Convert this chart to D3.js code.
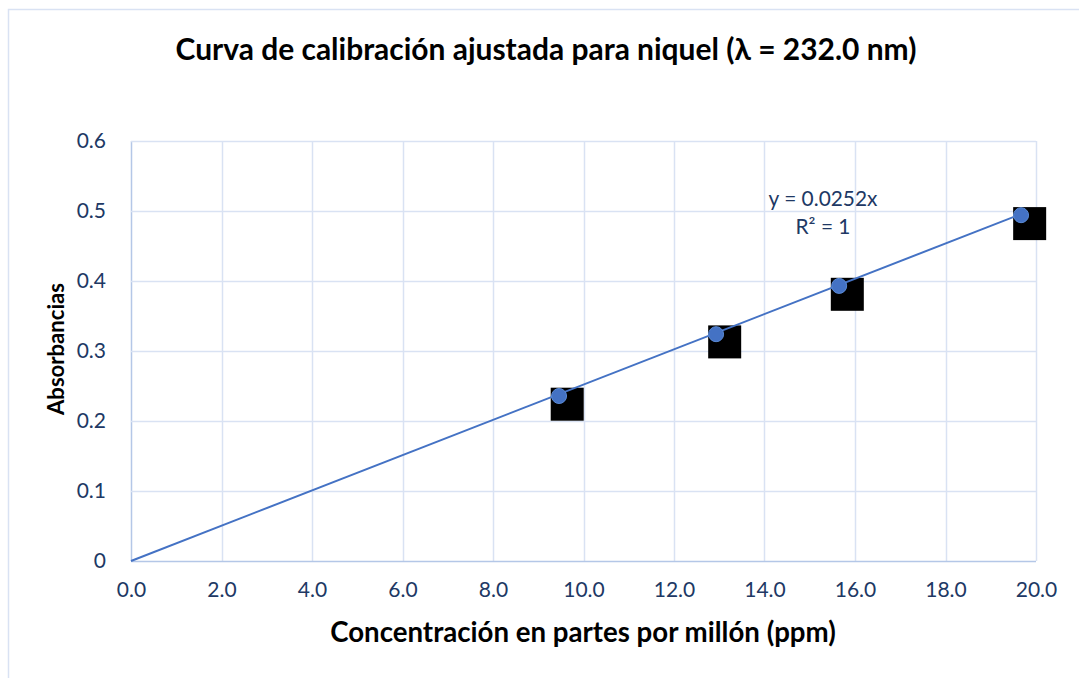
<!DOCTYPE html>
<html>
<head>
<meta charset="utf-8">
<script src="https://cdn.jsdelivr.net/npm/d3@7"></script>
<style>
  body { margin: 0; background: #fff; }
  svg { display: block; }
</style>
</head>
<body>
<svg id="chart" width="1079" height="678"></svg>
<script>
// data
const concentraciones = [9.46, 12.93, 15.65, 19.67];
const absorbancias = [0.2357, 0.324, 0.393, 0.494];
// black square markers (second, offset series)
const cuadrosX = [9.64, 13.12, 15.83, 19.86];
const cuadrosY = [0.224, 0.313, 0.381, 0.482];
const pendiente = 0.0252;
const xTicks = [0, 2, 4, 6, 8, 10, 12, 14, 16, 18, 20];
const yTicks = [0, 0.1, 0.2, 0.3, 0.4, 0.5, 0.6];
const titulo = "Curva de calibración ajustada para niquel (λ = 232.0 nm)";
const ejeX = "Concentración en partes por millón (ppm)";
const ejeY = "Absorbancias";

const svg = d3.select('#chart');
const font = "Lato, 'Open Sans', sans-serif";
const azulTexto = "#203864";
const azul = "#4472C4";
const rejilla = "#D9E2F3";

// chart border
svg.append('rect')
  .attr('x', 8.5).attr('y', 9.5)
  .attr('width', 1100).attr('height', 700)
  .attr('fill', 'none').attr('stroke', rejilla).attr('stroke-width', 1.5);

const pLeft = 131, pRight = 1036, pTop = 141, pBottom = 561;

const x = d3.scaleLinear().domain([0, 20]).range([pLeft, pRight]);
const y = d3.scaleLinear().domain([0, 0.6]).range([pBottom, pTop]);

// gridlines
svg.append('g').selectAll('line')
  .data(xTicks)
  .join('line')
    .attr('x1', d => Math.round(x(d)) + 0.5).attr('x2', d => Math.round(x(d)) + 0.5)
    .attr('y1', pTop).attr('y2', pBottom)
    .attr('stroke', d => d === 0 ? '#B4C7E7' : rejilla).attr('stroke-width', 1.5);

svg.append('g').selectAll('line')
  .data(yTicks)
  .join('line')
    .attr('x1', pLeft).attr('x2', pRight)
    .attr('y1', d => Math.round(y(d)) + 0.5).attr('y2', d => Math.round(y(d)) + 0.5)
    .attr('stroke', d => d === 0 ? '#B4C7E7' : rejilla).attr('stroke-width', 1.5);

// axes labels via d3 axes, domain and ticks hidden
const ax = svg.append('g')
  .attr('transform', `translate(0,${pBottom + 18})`)
  .call(d3.axisBottom(x).tickValues(xTicks).tickFormat(d3.format('.1f')).tickSize(0));
const ay = svg.append('g')
  .attr('transform', `translate(${pLeft - 22},0)`)
  .call(d3.axisLeft(y).tickValues(yTicks).tickFormat(d => d === 0 ? '0' : d3.format('.1f')(d)).tickSize(0));
[ax, ay].forEach(g => {
  g.select('.domain').remove();
  g.selectAll('text')
    .attr('fill', azulTexto)
    .style('font-family', font)
    .style('font-size', '21px');
});
ax.selectAll('text').attr('dy', '0.71em');

// black squares (under the line and points)
svg.append('g').selectAll('rect')
  .data(cuadrosX)
  .join('rect')
    .attr('x', d => x(d) - 16.5)
    .attr('y', (d, i) => y(cuadrosY[i]) - 16.5)
    .attr('width', 33).attr('height', 33)
    .attr('fill', '#000');

// trendline
svg.append('line')
  .attr('x1', x(0)).attr('y1', y(0))
  .attr('x2', x(d3.max(concentraciones))).attr('y2', y(pendiente * d3.max(concentraciones)))
  .attr('stroke', azul).attr('stroke-width', 2);

// points
svg.append('g').selectAll('circle')
  .data(concentraciones)
  .join('circle')
    .attr('cx', d => x(d))
    .attr('cy', (d, i) => y(absorbancias[i]))
    .attr('r', 7.5)
    .attr('fill', azul)
    .attr('stroke', '#5b8bd6').attr('stroke-width', 1);

// helper to fit text to a given width
function fitText(sel, target) {
  const w = sel.node().getComputedTextLength();
  const fs = parseFloat(sel.style('font-size'));
  sel.style('font-size', (fs * target / w) + 'px');
}

// equation label
const eq1 = svg.append('text')
  .attr('x', 823).attr('y', 206).attr('text-anchor', 'middle')
  .attr('fill', azulTexto)
  .style('font-family', font).style('font-size', '18px')
  .text('y = 0.0252x');
fitText(eq1, 109);
svg.append('text')
  .attr('x', 823).attr('y', 234).attr('text-anchor', 'middle')
  .attr('fill', azulTexto)
  .style('font-family', font).style('font-size', eq1.style('font-size'))
  .text('R² = 1');

const t = svg.append('text')
  .attr('x', 546).attr('y', 60)
  .attr('text-anchor', 'middle')
  .style('font-family', font).style('font-weight', 'bold').style('font-size', '26px')
  .attr('fill', '#000')
  .text(titulo);
fitText(t, 741);

const lx = svg.append('text')
  .attr('x', 583).attr('y', 642)
  .attr('text-anchor', 'middle')
  .style('font-family', font).style('font-weight', 'bold').style('font-size', '22px')
  .attr('fill', '#000')
  .text(ejeX);
fitText(lx, 506);

const ly = svg.append('text')
  .attr('transform', 'translate(64,349) rotate(-90)')
  .attr('text-anchor', 'middle')
  .style('font-family', font).style('font-weight', 'bold').style('font-size', '20px')
  .attr('fill', '#000')
  .text(ejeY);
fitText(ly, 132);
</script>
</body>
</html>
